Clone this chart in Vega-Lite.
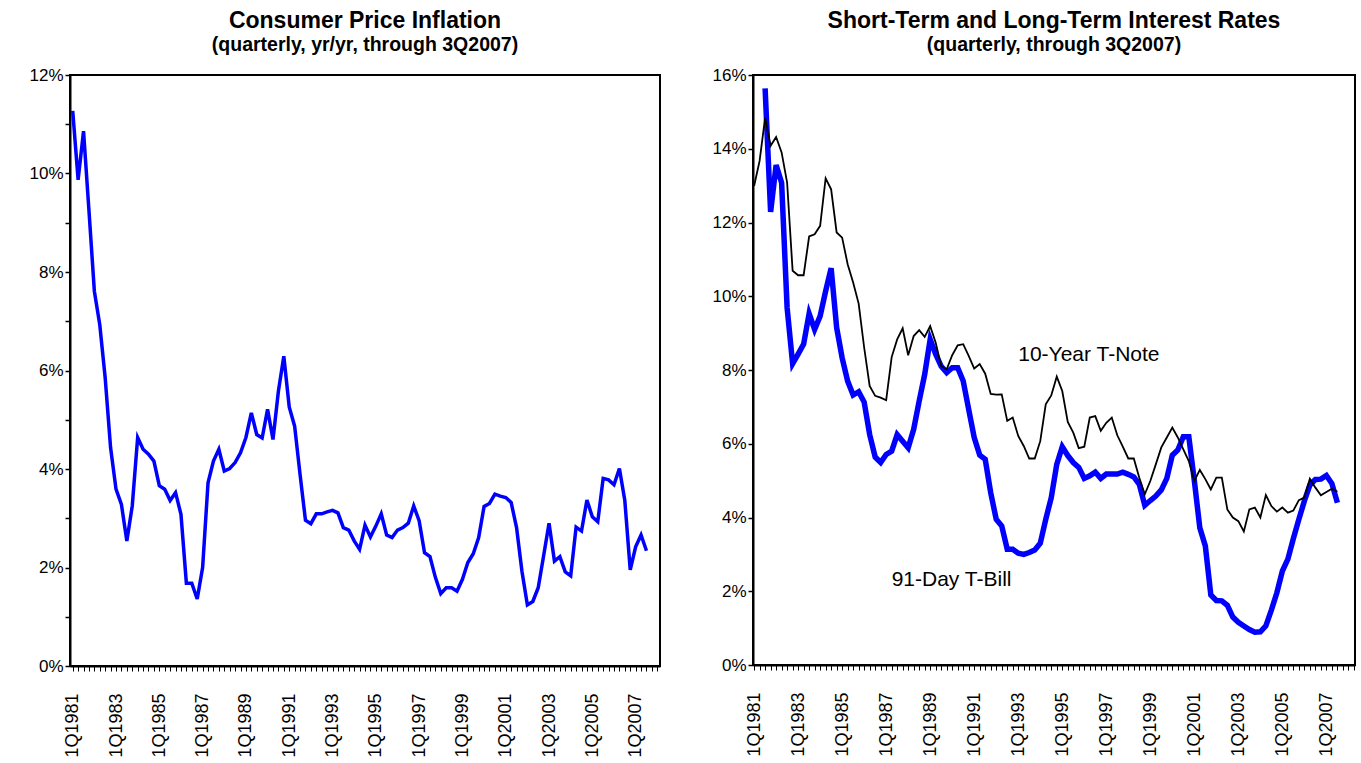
{
  "$schema": "https://vega.github.io/schema/vega-lite/v6.json",
  "background": "white",
  "padding": {"left": 27, "top": 8, "right": 3, "bottom": 0},
  "bounds": "flush",
  "spacing": 93,
  "config": {
    "font": "Liberation Sans",
    "view": {"stroke": "black", "strokeWidth": 2},
    "axis": {"grid": false, "domainColor": "black", "domainWidth": 2, "tickColor": "black", "labelColor": "black", "labelFont": "Liberation Sans", "labelFontSize": 17, "title": null},
    "title": {"font": "Liberation Sans", "subtitleFont": "Liberation Sans", "fontSize": 23, "subtitleFontSize": 19.5, "fontWeight": "bold", "subtitleFontWeight": "bold", "color": "black", "subtitleColor": "black", "anchor": "middle", "offset": 12, "subtitlePadding": 3}
  },
  "datasets": {
    "d": [
      {"q":"1Q1981","cpi":11.27,"note":12.99,"bill":null},
      {"q":"2Q1981","cpi":9.87,"note":13.67,"bill":null},
      {"q":"3Q1981","cpi":10.86,"note":14.84,"bill":15.64},
      {"q":"4Q1981","cpi":9.25,"note":14.08,"bill":12.29},
      {"q":"1Q1982","cpi":7.61,"note":14.32,"bill":13.56},
      {"q":"2Q1982","cpi":6.93,"note":13.90,"bill":13.08},
      {"q":"3Q1982","cpi":5.85,"note":13.08,"bill":9.69},
      {"q":"4Q1982","cpi":4.43,"note":10.69,"bill":8.17},
      {"q":"1Q1983","cpi":3.59,"note":10.57,"bill":8.43},
      {"q":"2Q1983","cpi":3.28,"note":10.57,"bill":8.70},
      {"q":"3Q1983","cpi":2.54,"note":11.62,"bill":9.53},
      {"q":"4Q1983","cpi":3.25,"note":11.68,"bill":9.10},
      {"q":"1Q1984","cpi":4.64,"note":11.91,"bill":9.46},
      {"q":"2Q1984","cpi":4.40,"note":13.20,"bill":10.14},
      {"q":"3Q1984","cpi":4.30,"note":12.90,"bill":10.76},
      {"q":"4Q1984","cpi":4.16,"note":11.73,"bill":9.15},
      {"q":"1Q1985","cpi":3.66,"note":11.59,"bill":8.33},
      {"q":"2Q1985","cpi":3.59,"note":10.87,"bill":7.70},
      {"q":"3Q1985","cpi":3.36,"note":10.37,"bill":7.32},
      {"q":"4Q1985","cpi":3.52,"note":9.80,"bill":7.41},
      {"q":"1Q1986","cpi":3.08,"note":8.61,"bill":7.13},
      {"q":"2Q1986","cpi":1.68,"note":7.57,"bill":6.25},
      {"q":"3Q1986","cpi":1.68,"note":7.30,"bill":5.64},
      {"q":"4Q1986","cpi":1.36,"note":7.25,"bill":5.49},
      {"q":"1Q1987","cpi":2.00,"note":7.18,"bill":5.71},
      {"q":"2Q1987","cpi":3.72,"note":8.35,"bill":5.80},
      {"q":"3Q1987","cpi":4.16,"note":8.83,"bill":6.25},
      {"q":"4Q1987","cpi":4.40,"note":9.13,"bill":6.07},
      {"q":"1Q1988","cpi":3.96,"note":8.40,"bill":5.89},
      {"q":"2Q1988","cpi":4.01,"note":8.92,"bill":6.39},
      {"q":"3Q1988","cpi":4.13,"note":9.08,"bill":7.16},
      {"q":"4Q1988","cpi":4.33,"note":8.90,"bill":7.88},
      {"q":"1Q1989","cpi":4.64,"note":9.19,"bill":8.83},
      {"q":"2Q1989","cpi":5.14,"note":8.74,"bill":8.43},
      {"q":"3Q1989","cpi":4.70,"note":8.11,"bill":8.10},
      {"q":"4Q1989","cpi":4.63,"note":8.02,"bill":7.93},
      {"q":"1Q1990","cpi":5.21,"note":8.40,"bill":8.06},
      {"q":"2Q1990","cpi":4.60,"note":8.67,"bill":8.06},
      {"q":"3Q1990","cpi":5.58,"note":8.70,"bill":7.70},
      {"q":"4Q1990","cpi":6.29,"note":8.38,"bill":6.93},
      {"q":"1Q1991","cpi":5.26,"note":8.04,"bill":6.17},
      {"q":"2Q1991","cpi":4.87,"note":8.16,"bill":5.69},
      {"q":"3Q1991","cpi":3.89,"note":7.90,"bill":5.58},
      {"q":"4Q1991","cpi":2.96,"note":7.35,"bill":4.67},
      {"q":"1Q1992","cpi":2.89,"note":7.33,"bill":3.95},
      {"q":"2Q1992","cpi":3.09,"note":7.34,"bill":3.77},
      {"q":"3Q1992","cpi":3.09,"note":6.62,"bill":3.14},
      {"q":"4Q1992","cpi":3.13,"note":6.71,"bill":3.14},
      {"q":"1Q1993","cpi":3.16,"note":6.21,"bill":3.03},
      {"q":"2Q1993","cpi":3.11,"note":5.94,"bill":3.00},
      {"q":"3Q1993","cpi":2.81,"note":5.60,"bill":3.05},
      {"q":"4Q1993","cpi":2.76,"note":5.60,"bill":3.12},
      {"q":"1Q1994","cpi":2.54,"note":6.07,"bill":3.30},
      {"q":"2Q1994","cpi":2.37,"note":7.07,"bill":3.95},
      {"q":"3Q1994","cpi":2.86,"note":7.31,"bill":4.54},
      {"q":"4Q1994","cpi":2.62,"note":7.82,"bill":5.44},
      {"q":"1Q1995","cpi":2.84,"note":7.43,"bill":5.92},
      {"q":"2Q1995","cpi":3.09,"note":6.59,"bill":5.68},
      {"q":"3Q1995","cpi":2.66,"note":6.30,"bill":5.49},
      {"q":"4Q1995","cpi":2.61,"note":5.88,"bill":5.36},
      {"q":"1Q1996","cpi":2.76,"note":5.92,"bill":5.06},
      {"q":"2Q1996","cpi":2.81,"note":6.71,"bill":5.13},
      {"q":"3Q1996","cpi":2.90,"note":6.75,"bill":5.23},
      {"q":"4Q1996","cpi":3.25,"note":6.35,"bill":5.06},
      {"q":"1Q1997","cpi":2.95,"note":6.57,"bill":5.18},
      {"q":"2Q1997","cpi":2.30,"note":6.71,"bill":5.18},
      {"q":"3Q1997","cpi":2.22,"note":6.23,"bill":5.18},
      {"q":"4Q1997","cpi":1.80,"note":5.92,"bill":5.23},
      {"q":"1Q1998","cpi":1.47,"note":5.60,"bill":5.17},
      {"q":"2Q1998","cpi":1.59,"note":5.60,"bill":5.10},
      {"q":"3Q1998","cpi":1.59,"note":5.08,"bill":4.90},
      {"q":"4Q1998","cpi":1.52,"note":4.63,"bill":4.33},
      {"q":"1Q1999","cpi":1.76,"note":4.99,"bill":4.46},
      {"q":"2Q1999","cpi":2.10,"note":5.44,"bill":4.58},
      {"q":"3Q1999","cpi":2.28,"note":5.90,"bill":4.75},
      {"q":"4Q1999","cpi":2.61,"note":6.17,"bill":5.06},
      {"q":"1Q2000","cpi":3.24,"note":6.44,"bill":5.69},
      {"q":"2Q2000","cpi":3.30,"note":6.17,"bill":5.83},
      {"q":"3Q2000","cpi":3.49,"note":5.85,"bill":6.19},
      {"q":"4Q2000","cpi":3.45,"note":5.53,"bill":6.19},
      {"q":"1Q2001","cpi":3.42,"note":4.99,"bill":5.00},
      {"q":"2Q2001","cpi":3.32,"note":5.29,"bill":3.72},
      {"q":"3Q2001","cpi":2.81,"note":5.04,"bill":3.23},
      {"q":"4Q2001","cpi":1.92,"note":4.76,"bill":1.90},
      {"q":"1Q2002","cpi":1.24,"note":5.08,"bill":1.75},
      {"q":"2Q2002","cpi":1.31,"note":5.08,"bill":1.74},
      {"q":"3Q2002","cpi":1.59,"note":4.22,"bill":1.62},
      {"q":"4Q2002","cpi":2.24,"note":4.00,"bill":1.30},
      {"q":"1Q2003","cpi":2.90,"note":3.90,"bill":1.16},
      {"q":"2Q2003","cpi":2.13,"note":3.62,"bill":1.06},
      {"q":"3Q2003","cpi":2.22,"note":4.22,"bill":0.96},
      {"q":"4Q2003","cpi":1.91,"note":4.27,"bill":0.89},
      {"q":"1Q2004","cpi":1.83,"note":4.00,"bill":0.90},
      {"q":"2Q2004","cpi":2.82,"note":4.61,"bill":1.06},
      {"q":"3Q2004","cpi":2.74,"note":4.31,"bill":1.49},
      {"q":"4Q2004","cpi":3.37,"note":4.16,"bill":1.96},
      {"q":"1Q2005","cpi":3.03,"note":4.27,"bill":2.55},
      {"q":"2Q2005","cpi":2.93,"note":4.13,"bill":2.87},
      {"q":"3Q2005","cpi":3.81,"note":4.19,"bill":3.43},
      {"q":"4Q2005","cpi":3.78,"note":4.47,"bill":3.95},
      {"q":"1Q2006","cpi":3.68,"note":4.54,"bill":4.45},
      {"q":"2Q2006","cpi":4.01,"note":5.05,"bill":4.88},
      {"q":"3Q2006","cpi":3.36,"note":4.81,"bill":5.03},
      {"q":"4Q2006","cpi":1.95,"note":4.60,"bill":5.04},
      {"q":"1Q2007","cpi":2.42,"note":4.69,"bill":5.14},
      {"q":"2Q2007","cpi":2.66,"note":4.78,"bill":4.92},
      {"q":"3Q2007","cpi":2.34,"note":4.70,"bill":4.40}
    ]
  },
  "hconcat": [
    {
      "width": 590,
      "height": 591,
      "title": {"text": "Consumer Price Inflation", "subtitle": "(quarterly, yr/yr, through 3Q2007)"},
      "data": {"name": "d"},
      "mark": {"type": "line", "color": "#0000FF", "strokeWidth": 3.5},
      "encoding": {
        "x": {
          "field": "q", "type": "ordinal", "sort": null,
          "scale": {"type": "point", "padding": 0.5, "domain": ["1Q1981","2Q1981","3Q1981","4Q1981","1Q1982","2Q1982","3Q1982","4Q1982","1Q1983","2Q1983","3Q1983","4Q1983","1Q1984","2Q1984","3Q1984","4Q1984","1Q1985","2Q1985","3Q1985","4Q1985","1Q1986","2Q1986","3Q1986","4Q1986","1Q1987","2Q1987","3Q1987","4Q1987","1Q1988","2Q1988","3Q1988","4Q1988","1Q1989","2Q1989","3Q1989","4Q1989","1Q1990","2Q1990","3Q1990","4Q1990","1Q1991","2Q1991","3Q1991","4Q1991","1Q1992","2Q1992","3Q1992","4Q1992","1Q1993","2Q1993","3Q1993","4Q1993","1Q1994","2Q1994","3Q1994","4Q1994","1Q1995","2Q1995","3Q1995","4Q1995","1Q1996","2Q1996","3Q1996","4Q1996","1Q1997","2Q1997","3Q1997","4Q1997","1Q1998","2Q1998","3Q1998","4Q1998","1Q1999","2Q1999","3Q1999","4Q1999","1Q2000","2Q2000","3Q2000","4Q2000","1Q2001","2Q2001","3Q2001","4Q2001","1Q2002","2Q2002","3Q2002","4Q2002","1Q2003","2Q2003","3Q2003","4Q2003","1Q2004","2Q2004","3Q2004","4Q2004","1Q2005","2Q2005","3Q2005","4Q2005","1Q2006","2Q2006","3Q2006","4Q2006","1Q2007","2Q2007","3Q2007","4Q2007","1Q2008"]},
          "axis": {"tickSize": 5, "tickWidth": 1, "labelAngle": -90, "labelAlign": "right", "labelBaseline": "middle", "labelPadding": 22, "labelOverlap": false, "labelFontSize": 18, "labelExpr": "slice(datum.value,0,2) == '1Q' && toNumber(slice(datum.value,2)) % 2 == 1 ? datum.value : ''"}
        },
        "y": {
          "field": "cpi", "type": "quantitative",
          "scale": {"domain": [0, 12], "nice": false},
          "axis": {"values": [0,1,2,3,4,5,6,7,8,9,10,11,12], "tickSize": 5, "tickWidth": 1.5, "labelPadding": 2, "labelExpr": "datum.value % 2 == 0 ? datum.value + '%' : ''"}
        }
      }
    },
    {
      "width": 602,
      "height": 590,
      "title": {"text": "Short-Term and Long-Term Interest Rates", "subtitle": "(quarterly, through 3Q2007)"},
      "encoding": {
        "x": {
          "field": "q", "type": "ordinal", "sort": null,
          "scale": {"type": "point", "padding": 0.2, "domain": ["1Q1981","2Q1981","3Q1981","4Q1981","1Q1982","2Q1982","3Q1982","4Q1982","1Q1983","2Q1983","3Q1983","4Q1983","1Q1984","2Q1984","3Q1984","4Q1984","1Q1985","2Q1985","3Q1985","4Q1985","1Q1986","2Q1986","3Q1986","4Q1986","1Q1987","2Q1987","3Q1987","4Q1987","1Q1988","2Q1988","3Q1988","4Q1988","1Q1989","2Q1989","3Q1989","4Q1989","1Q1990","2Q1990","3Q1990","4Q1990","1Q1991","2Q1991","3Q1991","4Q1991","1Q1992","2Q1992","3Q1992","4Q1992","1Q1993","2Q1993","3Q1993","4Q1993","1Q1994","2Q1994","3Q1994","4Q1994","1Q1995","2Q1995","3Q1995","4Q1995","1Q1996","2Q1996","3Q1996","4Q1996","1Q1997","2Q1997","3Q1997","4Q1997","1Q1998","2Q1998","3Q1998","4Q1998","1Q1999","2Q1999","3Q1999","4Q1999","1Q2000","2Q2000","3Q2000","4Q2000","1Q2001","2Q2001","3Q2001","4Q2001","1Q2002","2Q2002","3Q2002","4Q2002","1Q2003","2Q2003","3Q2003","4Q2003","1Q2004","2Q2004","3Q2004","4Q2004","1Q2005","2Q2005","3Q2005","4Q2005","1Q2006","2Q2006","3Q2006","4Q2006","1Q2007","2Q2007","3Q2007","4Q2007","1Q2008","2Q2008"]},
          "axis": {"tickSize": 5, "tickWidth": 1, "labelAngle": -90, "labelAlign": "right", "labelBaseline": "middle", "labelPadding": 22, "labelOverlap": false, "labelFontSize": 18, "labelExpr": "slice(datum.value,0,2) == '1Q' && toNumber(slice(datum.value,2)) % 2 == 1 ? datum.value : ''"}
        }
      },
      "layer": [
        {
          "data": {"name": "d"},
          "mark": {"type": "line", "color": "#0000FF", "strokeWidth": 5.5},
          "encoding": {
            "y": {
              "field": "bill", "type": "quantitative",
              "scale": {"domain": [0, 16], "nice": false},
              "axis": {"values": [0,1,2,3,4,5,6,7,8,9,10,11,12,13,14,15,16], "tickSize": 5, "tickWidth": 1.5, "labelPadding": 2, "labelExpr": "datum.value % 2 == 0 ? datum.value + '%' : ''"}
            }
          }
        },
        {
          "data": {"name": "d"},
          "mark": {"type": "line", "color": "black", "strokeWidth": 1.8},
          "encoding": {"y": {"field": "note", "type": "quantitative"}}
        },
        {
          "data": {"values": [
            {"q": "1Q1993", "v": 8.41, "label": "10-Year T-Note"},
            {"q": "2Q1987", "v": 2.30, "label": "91-Day T-Bill"}
          ]},
          "mark": {"type": "text", "align": "left", "baseline": "middle", "font": "Liberation Sans", "fontSize": 21, "color": "black"},
          "encoding": {
            "y": {"field": "v", "type": "quantitative"},
            "text": {"field": "label"}
          }
        }
      ]
    }
  ]
}
